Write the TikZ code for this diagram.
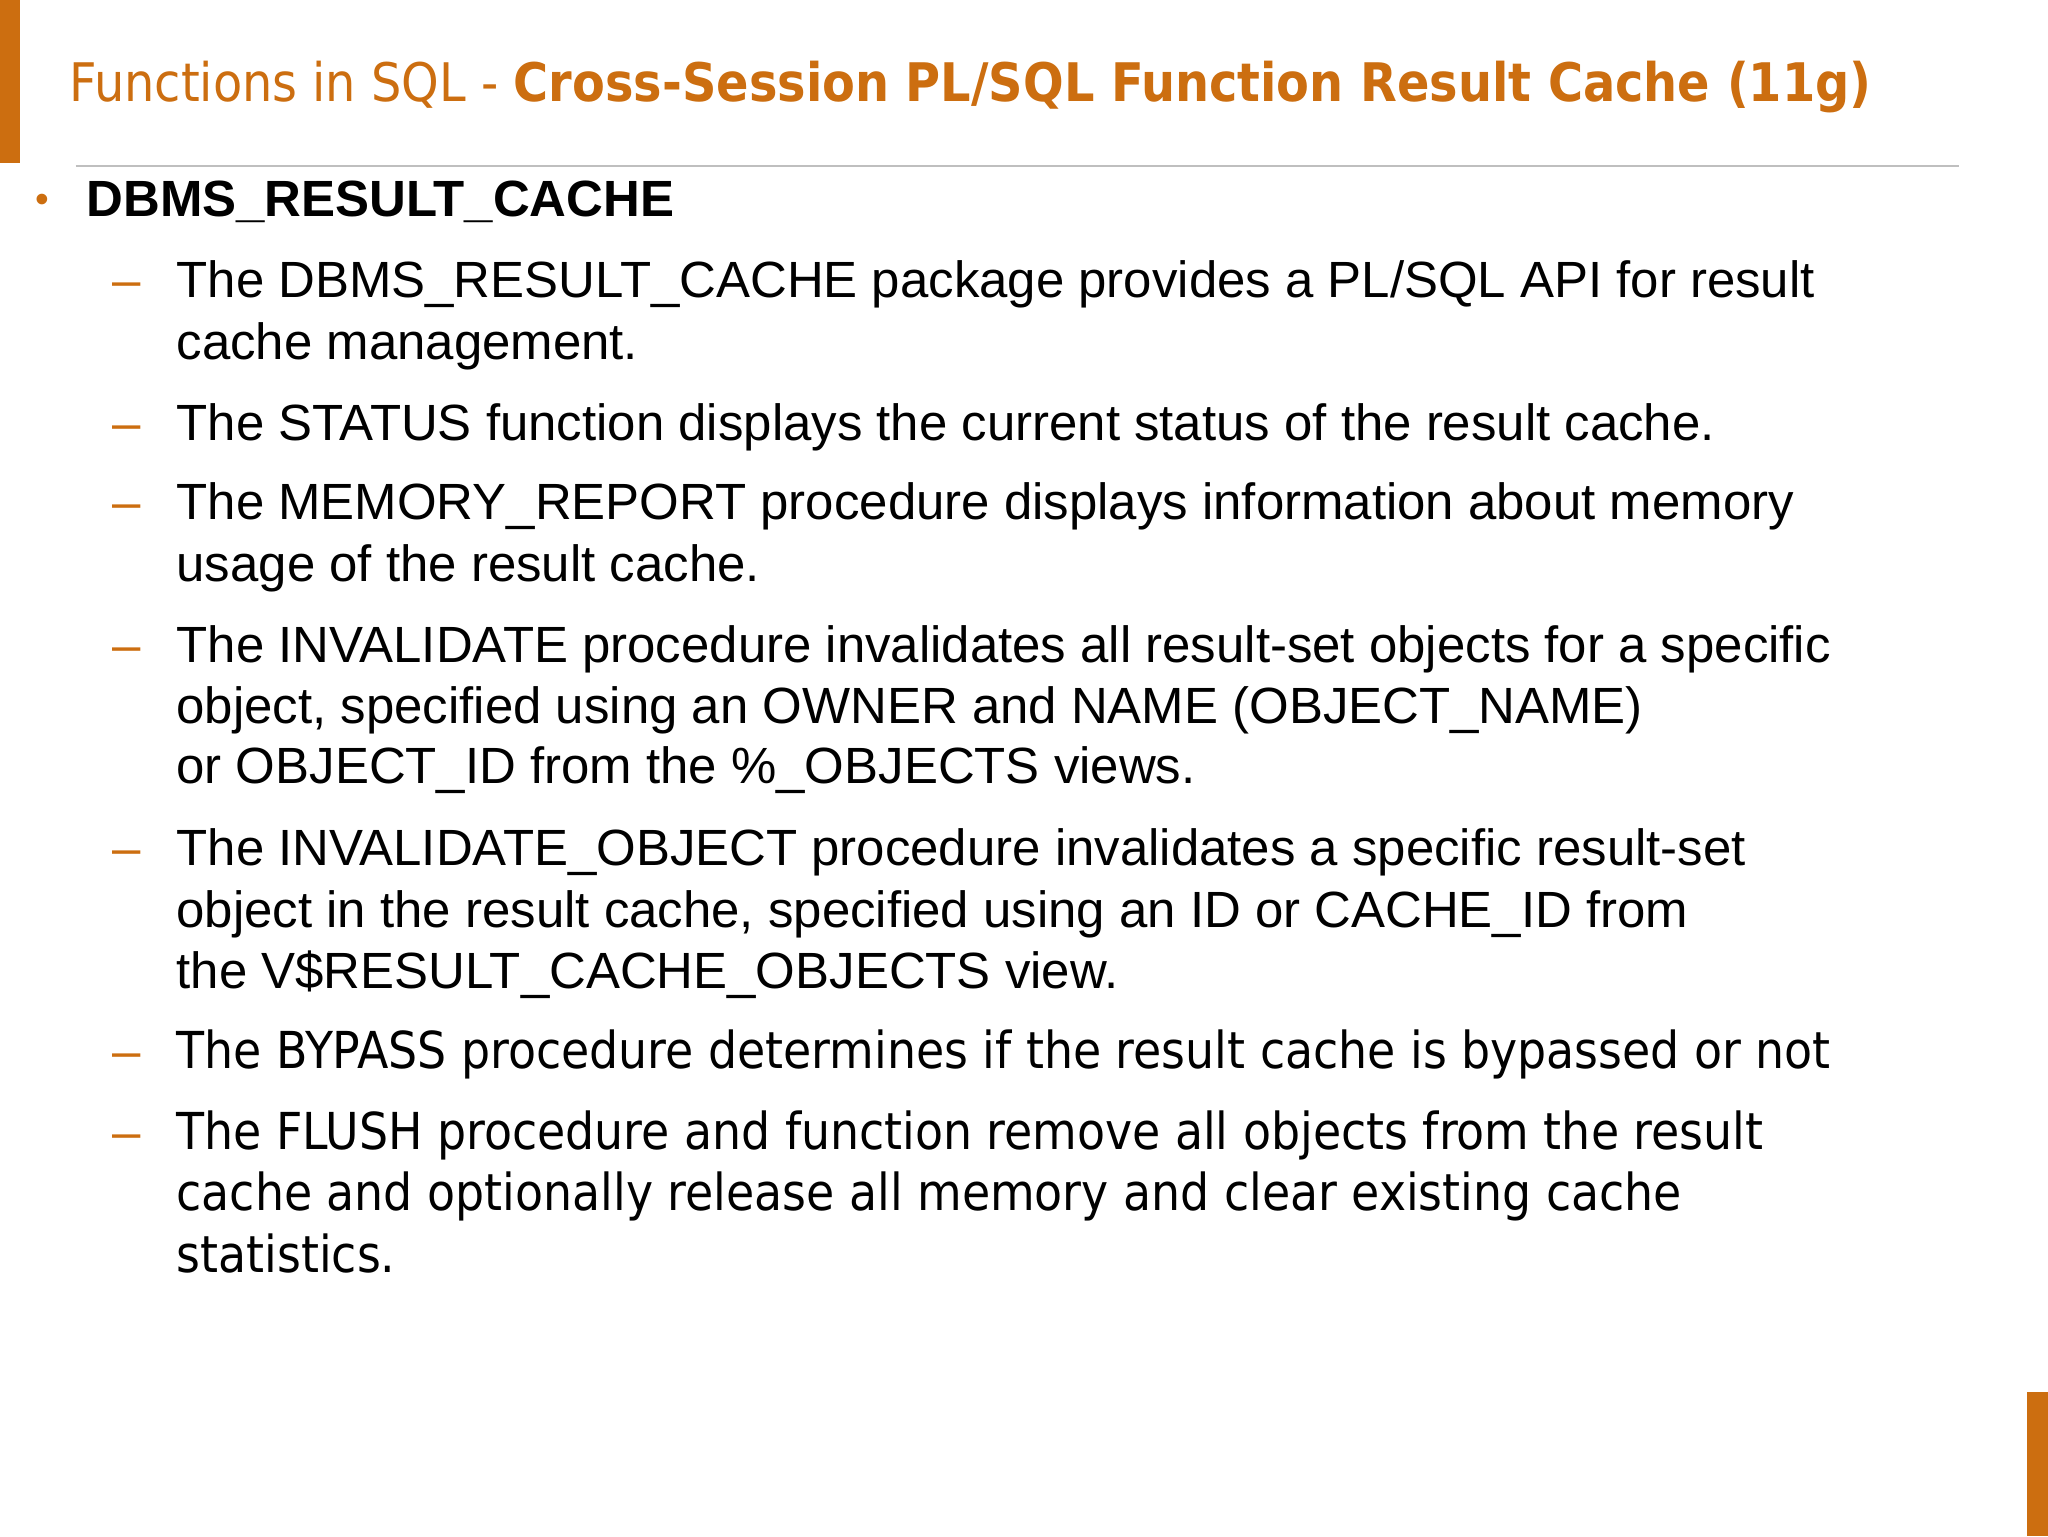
\documentclass[tikz,border=0pt]{standalone}
\usepackage{fontspec}
\setmainfont{Liberation Sans}
\newfontfamily\titlefont{DejaVu Sans Condensed}
\newfontfamily\tahfont{DejaVu Sans Condensed}
\definecolor{orc}{HTML}{CC6E10}
\begin{document}
\begin{tikzpicture}[x=1pt,y=-1pt,
  body/.style={anchor=base west,inner sep=0pt,font=\fontsize{39}{46}\selectfont},
  dsh/.style={anchor=base west,inner sep=0pt,text=orc,font=\fontsize{39}{46}\selectfont}]
\useasboundingbox[fill=white] (0,0) rectangle (1568,1176);
\fill[orc] (0,0) rectangle (15,125);
\fill[orc] (1552,1066) rectangle (1568,1176);
\node[anchor=base west,inner sep=0pt,text=orc,font=\titlefont\fontsize{40.7}{46}\selectfont] (title) at (53,78) {Functions in SQL - \textbf{Cross-Session PL/SQL Function Result Cache (11g)}};
\coordinate (l1) at (58,127); \coordinate (l2) at (1500,127);
\draw[gray!50,line width=1pt] (l1) -- (l2);
\node[anchor=base west,inner sep=0pt,text=orc,font=\fontsize{30}{36}\selectfont] (b) at (27,163) {•};
\node[body,font=\bfseries\fontsize{39}{46}\selectfont] (h) at (66,166) {DBMS\_RESULT\_CACHE};
\foreach \y in {228,337,398,507,663,818,880}{\node[dsh] at (86,\y) {–};}
\node[body] (t1) at (135,228) {The DBMS\_RESULT\_CACHE package provides a PL/SQL API for result};
\node[body] (t1b) at (135,275) {cache management.};
\node[body] (t2) at (135,337) {The STATUS function displays the current status of the result cache.};
\node[body] (t3) at (135,398) {The MEMORY\_REPORT procedure displays information about memory};
\node[body] (t3b) at (135,445) {usage of the result cache.};
\node[body] (t4) at (135,507) {The INVALIDATE procedure invalidates all result-set objects for a specific};
\node[body] (t4b) at (135,554) {object, specified using an OWNER and NAME (OBJECT\_NAME)};
\node[body] (t4c) at (135,600) {or OBJECT\_ID from the \%\_OBJECTS views.};
\node[body] (t5) at (135,663) {The INVALIDATE\_OBJECT procedure invalidates a specific result-set};
\node[body] (t5b) at (135,710) {object in the result cache, specified using an ID or CACHE\_ID from};
\node[body] (t5c) at (135,757) {the V\$RESULT\_CACHE\_OBJECTS view.};
\node[body,font=\tahfont\fontsize{39}{46}\selectfont] (t6) at (135,818) {The BYPASS procedure determines if the result cache is bypassed or not};
\node[body,font=\tahfont\fontsize{39}{46}\selectfont] (t7) at (135,880) {The FLUSH procedure and function remove all objects from the result};
\node[body,font=\tahfont\fontsize{39}{46}\selectfont] (t7b) at (135,927) {cache and optionally release all memory and clear existing cache};
\node[body,font=\tahfont\fontsize{39}{46}\selectfont] (t7c) at (135,974) {statistics.};
\end{tikzpicture}
\end{document}
